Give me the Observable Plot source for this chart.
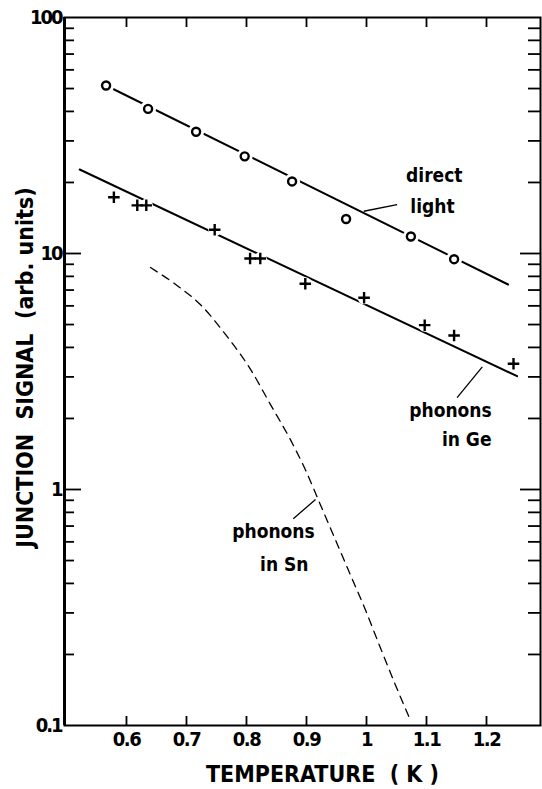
<!DOCTYPE html>
<html>
<head>
<meta charset="utf-8">
<script src="https://cdn.jsdelivr.net/npm/d3@7"></script>
<script src="https://cdn.jsdelivr.net/npm/@observablehq/plot@0.6"></script>
<style>
  html, body { margin: 0; padding: 0; background: #fff; }
  #chart svg { display: block; }
</style>
</head>
<body>
<div id="chart"></div>
<script>
// ---- data ----
const xTicks = [0.6, 0.7, 0.8, 0.9, 1.0, 1.1, 1.2];
const xTickLabels = ["0.6", "0.7", "0.8", "0.9", "1", "1.1", "1.2"];
const yMajor = [0.1, 1, 10, 100];
const yMajorLabels = ["0.1", "1", "10", "100"];
const yMinor = [0.2, 0.3, 0.4, 0.5, 0.6, 0.7, 0.8, 0.9,
                2, 3, 4, 5, 6, 7, 8, 9,
                20, 30, 40, 50, 60, 70, 80, 90];

// direct light (open circles)
const lightT = [0.566, 0.636, 0.716, 0.797, 0.876, 0.966, 1.074, 1.146];
const lightS = [51.5, 41.0, 32.8, 25.8, 20.2, 14.0, 11.8, 9.46];
const lightFitT = [0.566, 1.236];
const lightFitS = [51.5, 7.39];

// phonons in Ge (crosses)
const geT = [0.579, 0.618, 0.633, 0.747, 0.806, 0.823, 0.898, 0.996, 1.097, 1.146, 1.245];
const geS = [17.3, 16.0, 16.0, 12.6, 9.52, 9.52, 7.44, 6.49, 4.97, 4.49, 3.41];
const geFitT = [0.522, 1.251];
const geFitS = [22.7, 3.02];

// phonons in Sn (dashed curve)
const snT = [0.640, 0.682, 0.723, 0.765, 0.807, 0.840, 0.873, 0.898, 0.923, 0.948, 0.973, 0.998, 1.023, 1.048, 1.072];
const snS = [8.72, 7.39, 6.08, 4.54, 3.22, 2.29, 1.63, 1.215, 0.864, 0.614, 0.436, 0.310, 0.214, 0.149, 0.107];

// annotations
const noteText = ["direct", "light", "phonons", "in Ge", "phonons", "in Sn"];
const noteT = [1.113, 1.110, 1.140, 1.167, 0.845, 0.863];
const noteS = [21.4, 15.8, 2.16, 1.63, 0.658, 0.481];
const leaderT1 = [0.9955, 1.151, 0.878];
const leaderS1 = [15.1, 2.45, 0.751];
const leaderT2 = [1.051, 1.193, 0.915];
const leaderS2 = [16.1, 3.31, 0.908];

const xTitle = "TEMPERATURE  ( K )";
const yTitle = "JUNCTION  SIGNAL  (arb. units)";

// ---- tables ----
const light = lightT.map((t, i) => ({t, s: lightS[i]}));
const lightFit = lightFitT.map((t, i) => ({t, s: lightFitS[i]}));
const ge = geT.map((t, i) => ({t, s: geS[i]}));
const geFit = geFitT.map((t, i) => ({t, s: geFitS[i]}));
const sn = snT.map((t, i) => ({t, s: snS[i]}));
const notes = noteText.map((text, i) => ({text, t: noteT[i], s: noteS[i]}));
const leaders = leaderT1.map((t1, i) => ({t1, s1: leaderS1[i], t2: leaderT2[i], s2: leaderS2[i]}));

const W = 542, H = 789;
const mL = 64, mR = 2, mT = 17, mB = 64;
const innerW = W - mL - mR, innerH = H - mT - mB;
const xDomain = [0.4967, 1.29];
const FONT = "'DejaVu Sans Condensed', 'DejaVu Sans', sans-serif";

const chart = Plot.plot({
  width: W, height: H,
  marginLeft: mL, marginRight: mR, marginTop: mT, marginBottom: mB,
  style: {fontFamily: FONT, background: "#fff", color: "#000"},
  x: {domain: xDomain, label: null, axis: null},
  y: {type: "log", domain: [0.1, 100], label: null, axis: null},
  marks: [
    Plot.frame({stroke: "#000", strokeWidth: 2}),
    Plot.ruleX([xDomain[0]], {stroke: "#000", strokeWidth: 3}),
    // inward ticks
    Plot.tickX(xTicks, {x: d => d, insetTop: innerH - 9, stroke: "#000", strokeWidth: 1.8}),
    Plot.tickX(xTicks, {x: d => d, insetBottom: innerH - 10, stroke: "#000", strokeWidth: 1.8}),
    Plot.tickY(yMinor, {y: d => d, insetRight: innerW - 10, stroke: "#000", strokeWidth: 1.8}),
    Plot.tickY(yMinor, {y: d => d, insetLeft: innerW - 12, stroke: "#000", strokeWidth: 1.8}),
    Plot.tickY(yMajor.slice(1, 3), {y: d => d, insetRight: innerW - 17, stroke: "#000", strokeWidth: 1.8}),
    Plot.tickY(yMajor.slice(1, 3), {y: d => d, insetLeft: innerW - 20, stroke: "#000", strokeWidth: 1.8}),
    // tick labels
    Plot.axisX(xTicks, {tickSize: 0, tickPadding: 6, fontWeight: "bold",
      tickFormat: d => xTickLabels[xTicks.indexOf(d)], label: null}),
    Plot.axisY(yMajor, {tickSize: 0, tickPadding: 3, fontWeight: "bold",
      tickFormat: d => yMajorLabels[yMajor.indexOf(d)], label: null}),
    // fit lines
    Plot.line(lightFit, {x: "t", y: "s", stroke: "#000", strokeWidth: 2}),
    Plot.line(geFit, {x: "t", y: "s", stroke: "#000", strokeWidth: 2}),
    Plot.line(sn, {x: "t", y: "s", curve: "monotone-x", stroke: "#000", strokeWidth: 1.3, strokeDasharray: "8,6"}),
    // gaps around markers
    Plot.dot(light, {x: "t", y: "s", r: 8, fill: "#fff", stroke: null}),
    Plot.dot(ge, {x: "t", y: "s", r: 6.5, fill: "#fff", stroke: null}),
    // markers
    Plot.dot(light, {x: "t", y: "s", r: 4, fill: "#fff", stroke: "#000", strokeWidth: 2.4}),
    Plot.dot(ge, {x: "t", y: "s", symbol: "plus", r: 3.8, stroke: "#000", strokeWidth: 2.4}),
    // annotations
    Plot.link(leaders, {x1: "t1", y1: "s1", x2: "t2", y2: "s2", stroke: "#000", strokeWidth: 1.3}),
    Plot.text(notes, {x: "t", y: "s", text: "text", fontSize: 19, fontWeight: "bold", fill: "#000", ariaLabel: "notes"}),
    // titles
    Plot.text([xTitle], {frameAnchor: "bottom", lineAnchor: "middle", dy: 49, dx: 20, fontSize: 23, fontWeight: "bold",
      fill: "#000", ariaLabel: "xtitle"}),
    Plot.text([yTitle], {frameAnchor: "left", textAnchor: "middle", lineAnchor: "middle", dx: -39, dy: -4, rotate: -90,
      fontSize: 23, fontWeight: "bold", fill: "#000", ariaLabel: "ytitle"})
  ]
});

d3.select(chart).selectAll('g[aria-label="xtitle"] text').style("letter-spacing", "3px");
d3.select(chart).selectAll('g[aria-label="ytitle"] text').style("letter-spacing", "2px");
d3.select(chart).selectAll('g[aria-label="notes"] text').style("letter-spacing", "0.5px");
d3.select(chart).selectAll('g[aria-label="y-axis tick label"] text')
  .style("font-size", "20px").style("letter-spacing", "-2px");
d3.select(chart).selectAll('g[aria-label="x-axis tick label"] text')
  .style("font-size", "20px").style("letter-spacing", "-1.5px");
document.getElementById("chart").appendChild(chart);
</script>
</body>
</html>
